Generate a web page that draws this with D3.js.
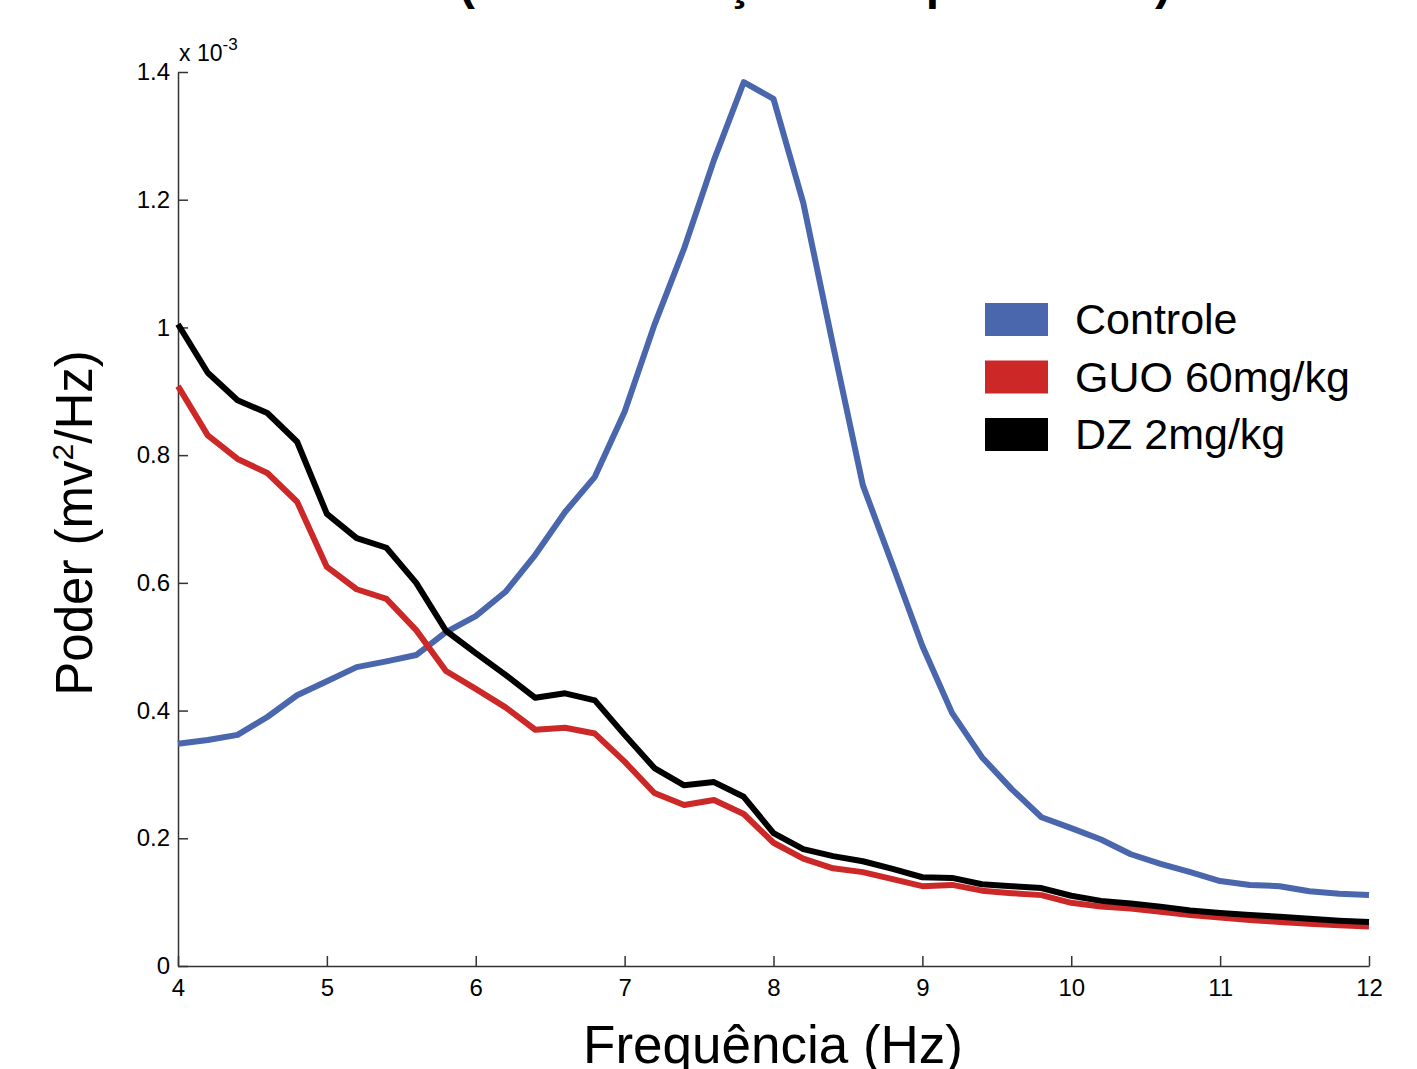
<!DOCTYPE html>
<html>
<head>
<meta charset="utf-8">
<script src="https://cdn.jsdelivr.net/npm/d3@7"></script>
<style>
  body { margin: 0; background: #fff; }
  text { font-family: "Liberation Sans", Arial, sans-serif; fill: #000; }
</style>
</head>
<body>
<script>
// frequencias (Hz), passo 0.2
const freq = d3.range(41).map(i => +(4 + i * 0.2).toFixed(1));

// poder (x 10^-3 mv^2/Hz)
const controle = [0.348, 0.354, 0.362, 0.390, 0.424, 0.446, 0.468, 0.477, 0.487, 0.523,
  0.548, 0.586, 0.644, 0.711, 0.766, 0.868, 1.004, 1.124, 1.262, 1.384,
  1.358, 1.195, 0.972, 0.753, 0.628, 0.501, 0.396, 0.327, 0.277, 0.233,
  0.216, 0.198, 0.175, 0.160, 0.147, 0.133, 0.127, 0.125, 0.117, 0.113, 0.111];
const guo = [0.908, 0.831, 0.794, 0.772, 0.727, 0.625, 0.590, 0.575, 0.526, 0.462,
  0.434, 0.405, 0.370, 0.373, 0.364, 0.320, 0.271, 0.252, 0.260, 0.238,
  0.193, 0.168, 0.153, 0.147, 0.136, 0.125, 0.127, 0.118, 0.114, 0.111,
  0.099, 0.093, 0.090, 0.085, 0.080, 0.076, 0.072, 0.069, 0.066, 0.064, 0.062];
const dz = [1.005, 0.929, 0.886, 0.866, 0.821, 0.708, 0.670, 0.655, 0.600, 0.525,
  0.490, 0.456, 0.420, 0.427, 0.416, 0.362, 0.310, 0.283, 0.288, 0.265,
  0.208, 0.183, 0.172, 0.164, 0.152, 0.139, 0.138, 0.128, 0.125, 0.122,
  0.110, 0.102, 0.098, 0.093, 0.087, 0.083, 0.080, 0.077, 0.074, 0.071, 0.069];

const xTicks = [4, 5, 6, 7, 8, 9, 10, 11, 12];
const yTicks = [0, 0.2, 0.4, 0.6, 0.8, 1, 1.2, 1.4];

const series = [
  { name: "Controle", values: controle, color: "#4a66ac" },
  { name: "GUO 60mg/kg", values: guo, color: "#cc2828" },
  { name: "DZ 2mg/kg", values: dz, color: "#000000" }
];

const W = 1417, H = 1069;
const x0 = 178, x1 = 1369, y0 = 966, y1 = 72;

const svg = d3.select("body").append("svg")
  .attr("width", W).attr("height", H);

const xScale = d3.scaleLinear().domain([4, 12]).range([x0, x1]);
const yScale = d3.scaleLinear().domain([0, 1.4]).range([y0, y1]);

// titulo (cortado no topo, como na figura original)
svg.append("text")
  .attr("x", 815).attr("y", -1)
  .attr("text-anchor", "middle")
  .attr("font-size", 48).attr("font-weight", "bold")
  .text("(Administração intraperitoneal)");

// eixo x
const xAxis = d3.axisBottom(xScale).tickValues(xTicks)
  .tickSizeInner(-10).tickSizeOuter(0).tickPadding(13)
  .tickFormat(d3.format("d"));
const gx = svg.append("g").attr("transform", "translate(0," + y0 + ")").call(xAxis);
gx.select(".domain").attr("stroke", "#333").attr("stroke-width", 1.5);
gx.selectAll(".tick line").attr("stroke", "#333").attr("stroke-width", 1.5);
gx.selectAll(".tick text").attr("font-size", 24).attr("font-family", "Liberation Sans, Arial, sans-serif");

// eixo y
const yAxis = d3.axisLeft(yScale).tickValues(yTicks)
  .tickSizeInner(-10).tickSizeOuter(0).tickPadding(8)
  .tickFormat(d => d === 0 ? "0" : d3.format("~g")(d));
const gy = svg.append("g").attr("transform", "translate(" + x0 + ",0)").call(yAxis);
gy.select(".domain").attr("stroke", "#333").attr("stroke-width", 1.5);
gy.selectAll(".tick line").attr("stroke", "#333").attr("stroke-width", 1.5);
gy.selectAll(".tick text").attr("font-size", 24).attr("font-family", "Liberation Sans, Arial, sans-serif");

// multiplicador
const mult = svg.append("text").attr("x", 179).attr("y", 61).attr("font-size", 23);
mult.append("tspan").text("x 10");
mult.append("tspan").attr("dy", -11).attr("font-size", 17).text("-3");

// linhas
const line = d3.line()
  .x((d, i) => xScale(freq[i]))
  .y(d => yScale(d));

svg.append("g").selectAll("path")
  .data(series)
  .join("path")
  .attr("fill", "none")
  .attr("stroke", d => d.color)
  .attr("stroke-width", 6)
  .attr("stroke-linejoin", "round")
  .attr("d", d => line(d.values));

// legenda
const leg = svg.append("g");
series.forEach((s, i) => {
  const yy = 303 + i * 57.5;
  leg.append("rect").attr("x", 985).attr("y", yy).attr("width", 63).attr("height", 33)
    .attr("fill", s.color);
  leg.append("text").attr("x", 1075).attr("y", yy + 31).attr("font-size", 43).text(s.name);
});

// titulos dos eixos
svg.append("text")
  .attr("x", 773).attr("y", 1063)
  .attr("text-anchor", "middle").attr("font-size", 53)
  .text("Frequência (Hz)");

const yt = svg.append("text")
  .attr("transform", "translate(92,523) rotate(-90)")
  .attr("text-anchor", "middle").attr("font-size", 51);
yt.append("tspan").text("Poder (mv");
yt.append("tspan").attr("dy", -19).attr("font-size", 30).text("2");
yt.append("tspan").attr("dy", 19).text("/Hz)");
</script>
</body>
</html>
